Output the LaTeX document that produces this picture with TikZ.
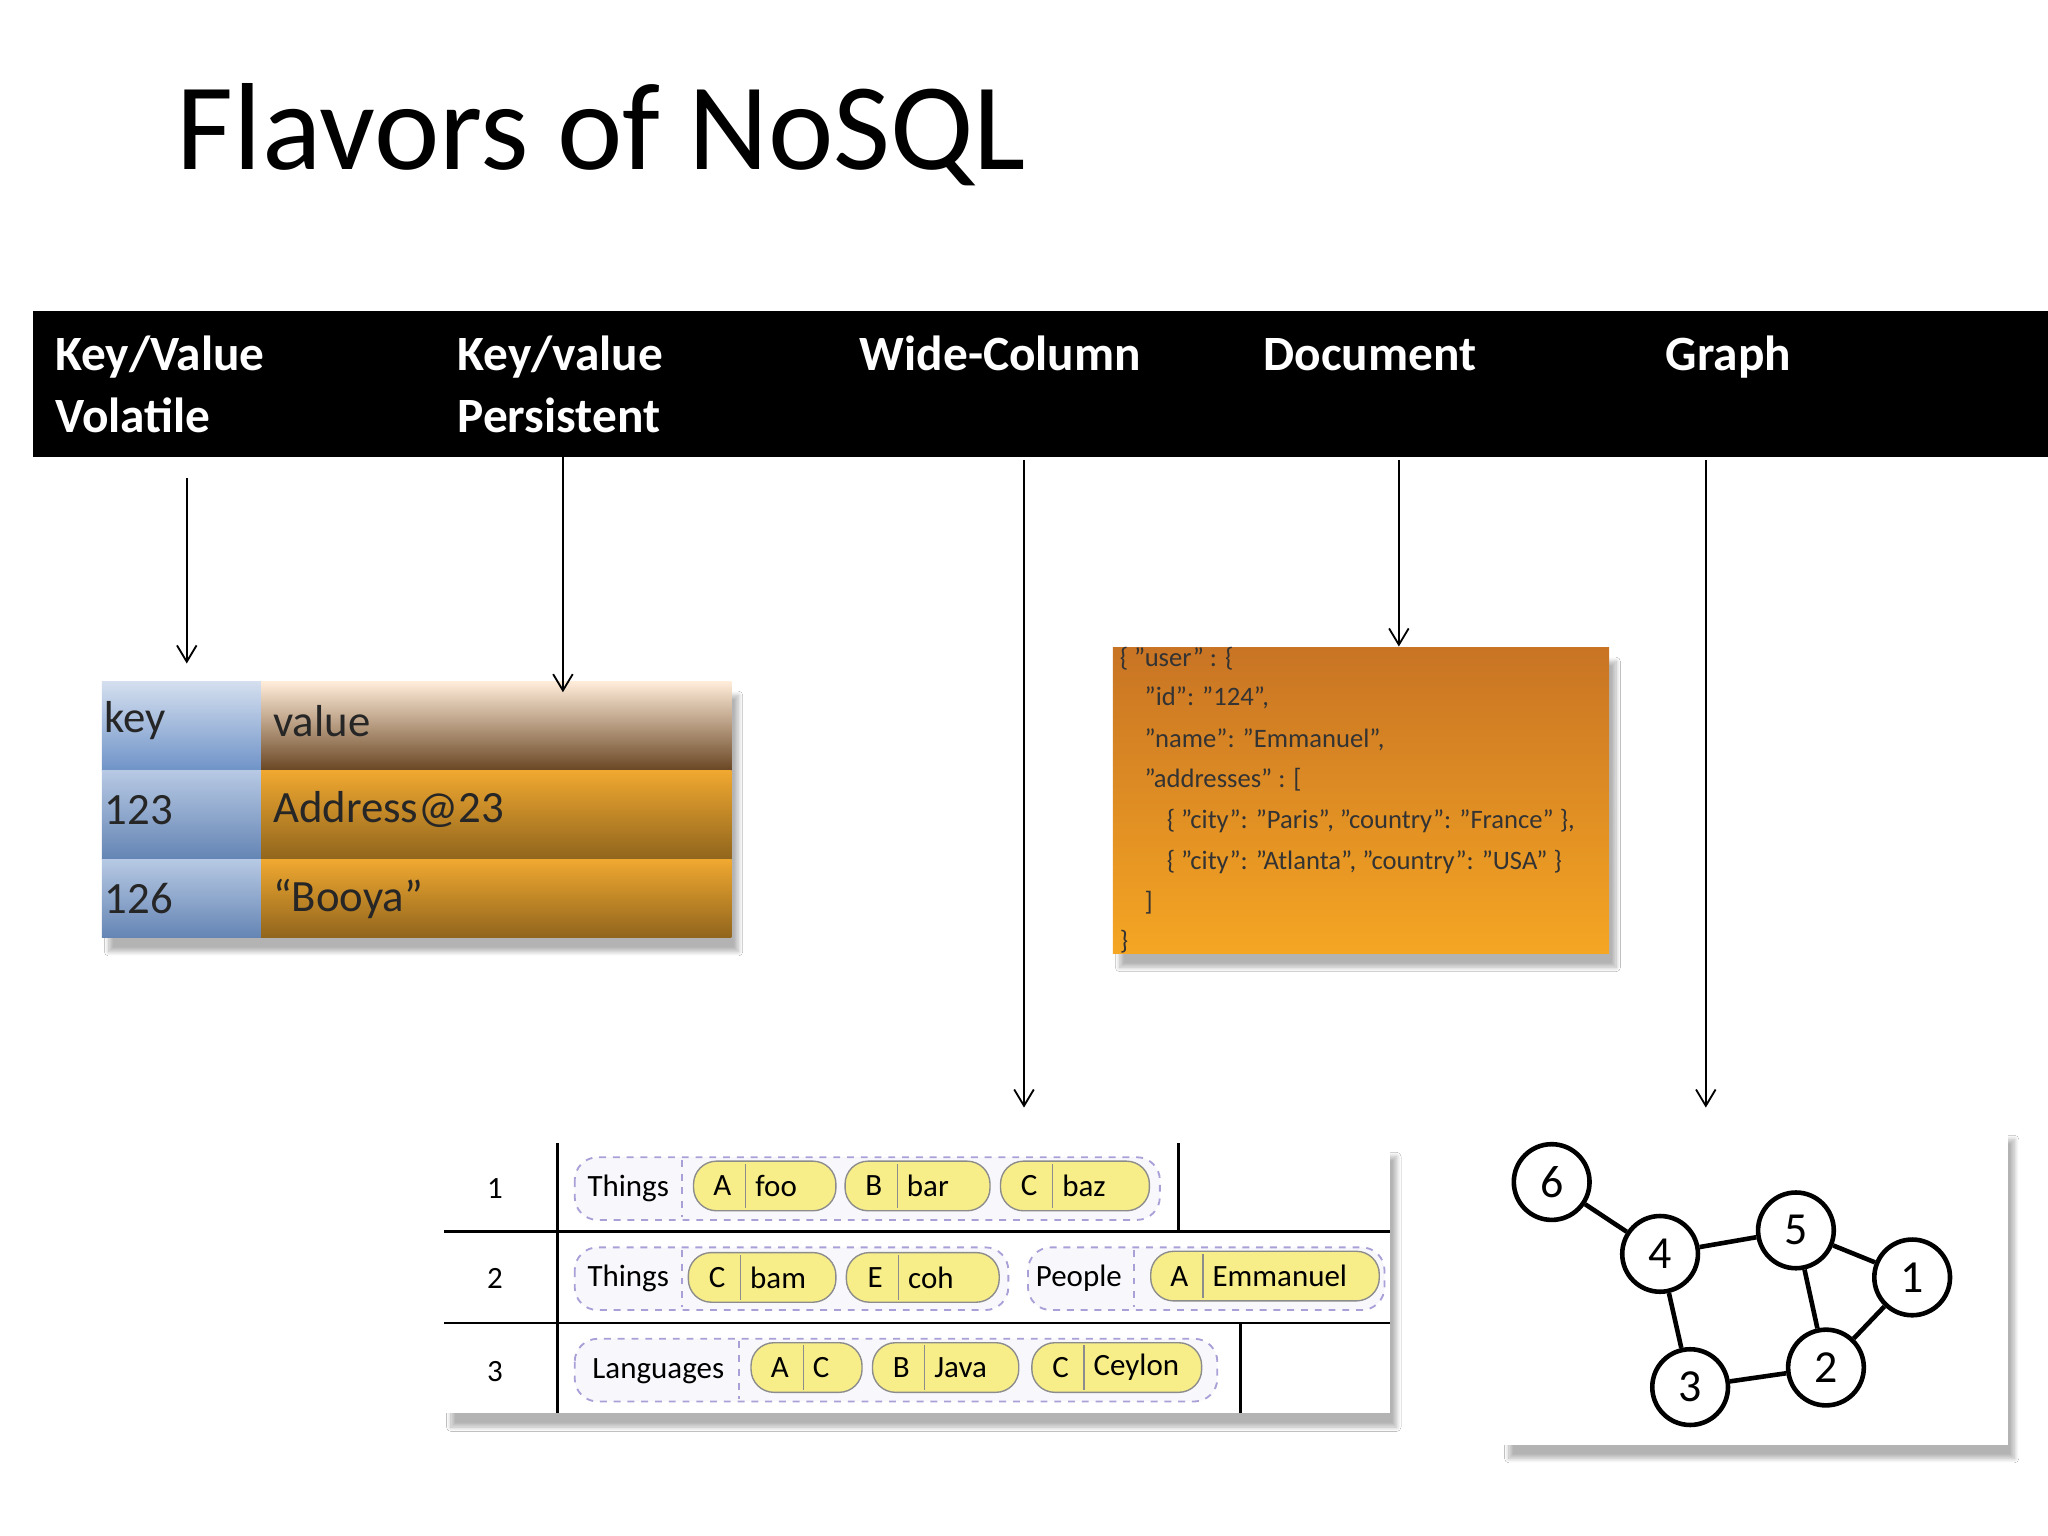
\documentclass[tikz,border=0pt]{standalone}
\usepackage{fontspec}
\setmainfont{Carlito}
\usetikzlibrary{shadows.blur,arrows.meta}
\definecolor{kvblue}{HTML}{6F93C8}
\definecolor{kvorange}{HTML}{F0A830}
\definecolor{pillfill}{HTML}{F7EE8A}
\definecolor{grpc}{HTML}{A9A0D8}
\definecolor{doctop}{HTML}{C87424}
\definecolor{docbot}{HTML}{F5A623}
\newcommand{\q}{\symbol{34}}
\tikzset{
 hdr/.style={anchor=base west,text=white,font=\bfseries\fontsize{21.5}{24}\selectfont,inner sep=0},
 arr/.style={-{Straight Barb[length=2.5mm,width=3mm]},line width=0.8pt},
 kvt/.style={anchor=west,font=\fontsize{19.5}{22}\selectfont,text=black!85},
 doct/.style={anchor=base west,font=\fontsize{11.6}{13}\selectfont,text=black!80,inner sep=0},
 pill/.style={draw=black!45,fill=pillfill,rounded corners=10pt,line width=0.6pt},
 grp/.style={draw=grpc,dashed,rounded corners=10pt,line width=0.8pt,fill=grpc!8},
 pt/.style={font=\fontsize{13.5}{15}\selectfont,inner sep=0,anchor=center},
 gn/.style={circle,draw,line width=2pt,minimum size=33pt,inner sep=0,font=\fontsize{20}{22}\selectfont,fill=white},
 shad/.style={blur shadow={shadow xshift=3pt,shadow yshift=-6pt,shadow blur steps=12,shadow opacity=30}}
}
\newcommand{\pillbox}[5]{%
 \draw[pill] (#1,#3-19) rectangle (#2,#3+19);
 \draw[black!45,line width=0.6pt] (#1+40,#3-17) -- (#1+40,#3+17);
 \node[pt] at (#1+22,#3) {#4};
 \node[pt,anchor=west] at (#1+47,#3) {#5};}
\begin{document}
\begin{tikzpicture}[x=0.02cm,y=-0.02cm]
\useasboundingbox (0,0) rectangle (1568,1176);
\fill[white] (0,0) rectangle (1568,1176);
\node[anchor=base west,inner sep=0,font=\fontsize{54}{60}\selectfont] (title) at (135,130) {Flavors of NoSQL};
\fill[black] (25,238) rectangle (1568,350);
\node[hdr] (h1a) at (42,284) {Key/Value};
\node[hdr] (h1b) at (42,331) {Volatile};
\node[hdr] (h2a) at (350,284) {Key/value};
\node[hdr] (h2b) at (350,331) {Persistent};
\node[hdr] (h3) at (658,284) {Wide-Column};
\node[hdr] (h4) at (967,284) {Document};
\node[hdr] (h5) at (1275,284) {Graph};
% key value table
\fill[white,shad] (78,522) rectangle (560,718);
\shade[top color=kvblue!30,bottom color=kvblue] (78,522) rectangle (200,590);
\shade[top color=kvblue!50,bottom color=kvblue!90!black] (78,590) rectangle (200,658);
\shade[top color=kvblue!50,bottom color=kvblue!90!black] (78,658) rectangle (200,718);
\shade[top color=orange!15,bottom color=black!45!brown] (200,522) rectangle (560,590);
\shade[top color=kvorange,bottom color=kvorange!60!black] (200,590) rectangle (560,658);
\shade[top color=kvorange,bottom color=kvorange!60!black] (200,658) rectangle (560,718);
\node[kvt] (k0) at (74,552) {key};
\node[kvt] (v0) at (203,552) {value};
\node[kvt] (k1) at (74,620) {123};
\node[kvt] (v1) at (203,620) {Address@23};
\node[kvt] (k2) at (74,688) {126};
\node[kvt] (v2) at (203,688) {“Booya”};
% document
\fill[white,shad] (852,496) rectangle (1232,730);
\shade[top color=doctop,bottom color=docbot] (852,496) rectangle (1232,730);
\node[doct] at (857,510) {\{ \q user\q{} : \{};
\node[doct] at (876,540) {\q id\q: \q 124\q,};
\node[doct] at (876,572) {\q name\q: \q Emmanuel\q,};
\node[doct] at (876,603) {\q addresses\q{} : [};
\node[doct] at (893,634) {\{ \q city\q: \q Paris\q, \q country\q: \q France\q{} \},};
\node[doct] at (893,666) {\{ \q city\q: \q Atlanta\q, \q country\q: \q USA\q{} \}};
\node[doct] at (876,697) {]};
\node[doct] at (857,727) {\}};
% wide column
\fill[white,shad] (340,875) rectangle (1064,1082);
\draw[line width=1.2pt] (340,943) -- (1064,943) (340,1013) -- (1064,1013);
\draw[line width=1.2pt] (427,875) -- (427,1082);
\draw[line width=1.2pt] (902,875) -- (902,943) (950,1013) -- (950,1082);
\node[pt] at (379,910) {1}; \node[pt] at (379,979) {2}; \node[pt] at (379,1050) {3};
\draw[grp] (440,886) rectangle (888,934); \draw[grp] (522,888) -- (522,932);
\node[pt] at (481,910) {Things};
\pillbox{531}{640}{908}{A}{foo}
\pillbox{647}{758}{908}{B}{bar}
\pillbox{766}{880}{908}{C}{baz}
\draw[grp] (440,955) rectangle (772,1003); \draw[grp] (522,957) -- (522,1001);
\node[pt] at (481,979) {Things};
\pillbox{527}{640}{978}{C}{bam}
\pillbox{648}{765}{978}{E}{coh}
\draw[grp] (787,955) rectangle (1060,1003); \draw[grp] (868,957) -- (868,1001);
\node[pt] at (826,979) {People};
\pillbox{881}{1056}{977}{A}{Emmanuel}
\draw[grp] (440,1025) rectangle (932,1073); \draw[grp] (566,1027) -- (566,1071);
\node[pt] at (504,1050) {Languages};
\pillbox{575}{660}{1047}{A}{C}
\pillbox{668}{780}{1047}{B}{Java}
\pillbox{790}{920}{1047}{C}{Ceylon}
% graph
\fill[white,shad] (1150,862) rectangle (1537,1106);
\node[gn] (n6) at (1188,905) {6};
\node[gn] (n4) at (1271,960) {4};
\node[gn] (n5) at (1375,942) {5};
\node[gn] (n1) at (1464,978) {1};
\node[gn] (n2) at (1398,1047) {2};
\node[gn] (n3) at (1294,1062) {3};
\foreach \a/\b in {6/4,4/5,4/3,3/2,5/2,5/1,1/2} \draw[line width=2pt] (n\a) -- (n\b);
% arrows
\coordinate (a1s) at (143,366); \coordinate (a1e) at (143,508);
\coordinate (a2s) at (431,350); \coordinate (a2e) at (431,530);
\coordinate (a3s) at (784,352); \coordinate (a3e) at (784,848);
\coordinate (a4s) at (1071,352); \coordinate (a4e) at (1071,495);
\coordinate (a5s) at (1306,352); \coordinate (a5e) at (1306,848);
\foreach \i in {1,...,5} \draw[arr] (a\i s) -- (a\i e);
\end{tikzpicture}
\end{document}
